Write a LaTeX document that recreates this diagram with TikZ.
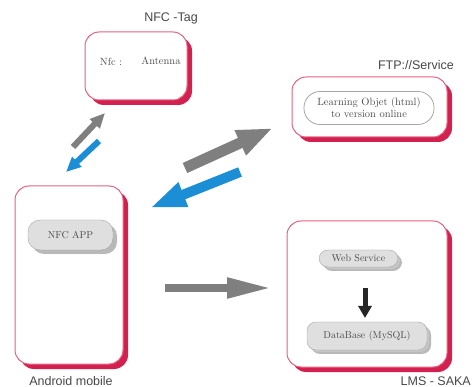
\documentclass[tikz,border=0pt]{standalone}
\usepackage{fontspec}
\setsansfont{Liberation Sans}
\usetikzlibrary{shadows,arrows.meta}
\definecolor{crim}{HTML}{D4204F}
\definecolor{arrgray}{HTML}{7F7F7F}
\definecolor{arrblue}{HTML}{1C8ED6}
\begin{document}
\begin{tikzpicture}[x=1pt,y=-1pt,
 bigbox/.style={draw=crim!70, line width=1pt, fill=white, rounded corners=14pt, inner sep=0pt,
   drop shadow={shadow xshift=5pt, shadow yshift=-5pt, fill=crim, opacity=1}},
 inbox/.style={draw=gray!70, fill=gray!25, rounded corners=9pt, inner sep=0pt,
   font=\fontsize{10}{11}\selectfont, text=black!70,
   drop shadow={shadow xshift=4pt, shadow yshift=-4pt, fill=gray!55, opacity=1}},
 lbl/.style={font=\sffamily\fontsize{12.5}{13}\selectfont, text=black!72, inner sep=0pt},
 small/.style={font=\fontsize{10.5}{11}\selectfont, text=black!70, inner sep=0pt},
 graya/.style={draw=arrgray, line width=#1},
 bluea/.style={draw=arrblue, line width=#1},
]
\useasboundingbox (0,0) rectangle (474,387);

% boxes
\node[bigbox, minimum width=102pt, minimum height=68pt] (tag) at (136,66) {};
\node[bigbox, minimum width=108pt, minimum height=178pt] (mob) at (69,275) {};
\node[bigbox, minimum width=155pt, minimum height=60pt] (ftp) at (369.5,107) {};
\node[bigbox, minimum width=160pt, minimum height=146pt] (lms) at (367,294) {};

% labels
\node[lbl, anchor=east] (tagl) at (198,18) {NFC -Tag};
\node[lbl, anchor=east] (ftpl) at (454,65) {FTP://Service};
\node[lbl, anchor=base] (mobl) at (71,385) {Android mobile};
\node[lbl, anchor=base east] (lmsl) at (471,385) {LMS - SAKA};

% inner content
\node[small] (nfc) at (111,62) {Nfc :};
\node[small] (ant) at (161,61) {Antenna};
\node[draw=gray!70, line width=0.8pt, rounded corners=16pt, minimum width=130pt, minimum height=33pt,
      inner sep=0pt, align=center, text=black!70, font=\fontsize{10.5}{12}\selectfont] (lo) at (369,108)
      {Learning Objet (html)\\to version online};
\node[inbox, minimum width=85pt, minimum height=30pt, rounded corners=12pt] (app) at (70.5,235) {NFC APP};
\node[inbox, minimum width=79pt, minimum height=17pt, drop shadow={shadow xshift=2pt, shadow yshift=-2pt, fill=gray!45, opacity=1}] (ws) at (358.5,258.5) {Web Service};
\node[inbox, minimum width=120pt, minimum height=28pt, drop shadow={shadow xshift=2pt, shadow yshift=-2pt, fill=gray!45, opacity=1}] (db) at (367,336) {DataBase (MySQL)};

% arrow end points
\coordinate (g1s) at (73,147);  \coordinate (g1e) at (105,113);
\coordinate (b1s) at (99,141);  \coordinate (b1e) at (66,172);
\coordinate (g2s) at (185,168); \coordinate (g2e) at (273,128);
\coordinate (b2s) at (240,172); \coordinate (b2e) at (150,208);
\coordinate (hs) at (165,288);  \coordinate (he) at (272,288);
\coordinate (ks) at (365,288);  \coordinate (ke) at (365,318);

\draw[graya=6pt, -{Triangle[length=15pt,width=13pt]}] (g1s) -- (g1e);
\draw[bluea=6pt, -{Triangle[length=15pt,width=13pt]}] (b1s) -- (b1e);
\draw[graya=11pt, -{Triangle[length=36pt,width=25pt]}] (g2s) -- (g2e);
\draw[bluea=10pt, -{Triangle[length=36pt,width=24pt]}] (b2s) -- (b2e);
\draw[graya=8pt, -{Triangle[length=45pt,width=19pt]}] (hs) -- (he);
\draw[line width=5pt, black!85, -{Triangle[length=12pt,width=13pt]}] (ks) -- (ke);
\end{tikzpicture}
\end{document}
